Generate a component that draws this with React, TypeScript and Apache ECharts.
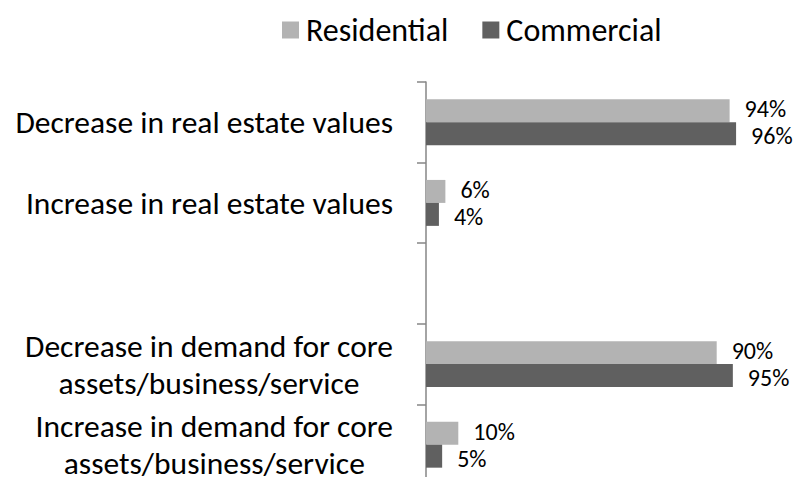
import React, { useEffect, useRef } from "react";
import * as echarts from "echarts";

const categories = [
  "Decrease in real estate values",
  "Increase in real estate values",
  "",
  "Decrease in demand for core\nassets/business/service",
  "Increase in demand for core\nassets/business/service",
];
const seriesNames = ["Residential", "Commercial"];
const residential = [94, 6, null, 90, 10];
const commercial = [96, 4, null, 95, 5];
const colors = ["#B3B3B3", "#606060"];

const FONT = "Carlito, Calibri, Lato, 'Noto Sans', sans-serif";

export default function App() {
  const ref = useRef<HTMLDivElement>(null);
  useEffect(() => {
    if (!ref.current) return;
    const chart = echarts.init(ref.current, undefined, { renderer: "svg" });
    const labelCfg = (dy: number) => ({
      show: true,
      position: "right",
      distance: 15,
      offset: [0, dy],
      formatter: "{c}%",
      fontSize: 24,
      lineHeight: 22,
      fontFamily: FONT,
      color: "#000",
    });
    chart.setOption({
      animation: false,
      textStyle: { fontFamily: FONT },
      legend: {
        data: seriesNames,
        left: 277,
        top: 9,
        icon: "rect",
        itemWidth: 17,
        itemHeight: 17,
        itemGap: 34,
        textStyle: { fontSize: 32, color: "#000", fontFamily: FONT, padding: [0, 0, 0, 2] },
      },
      grid: { left: 426, right: 55, top: 82, bottom: -5, containLabel: false },
      xAxis: {
        type: "value",
        min: 0,
        max: 100,
        show: false,
        splitLine: { show: false },
      },
      yAxis: {
        type: "category",
        inverse: true,
        data: categories,
        axisLine: { show: true, lineStyle: { color: "#868686", width: 1.5 } },
        axisTick: { show: true, length: 9, lineStyle: { color: "#868686", width: 1.5 } },
        axisLabel: {
          margin: 33,
          fontSize: 31.5,
          color: "#000",
          fontFamily: FONT,
          align: "right",
          formatter: (v: string) =>
            v
              .split("\n")
              .map((s) => "{c|" + s + "}")
              .join("\n"),
          rich: {
            c: { fontSize: 31.5, color: "#000", fontFamily: FONT, align: "center", lineHeight: 37 },
          },
        },
      },
      series: [
        {
          name: seriesNames[0],
          type: "bar",
          data: residential,
          itemStyle: { color: colors[0] },
          barGap: "0%",
          barCategoryGap: "43%",
          label: labelCfg(-2),
        },
        {
          name: seriesNames[1],
          type: "bar",
          data: commercial,
          itemStyle: { color: colors[1] },
          barGap: "0%",
          barCategoryGap: "43%",
          label: labelCfg(2),
        },
      ],
    });
    return () => chart.dispose();
  }, []);
  return <div ref={ref} style={{ width: 804, height: 485, margin: -8 }} />;
}
